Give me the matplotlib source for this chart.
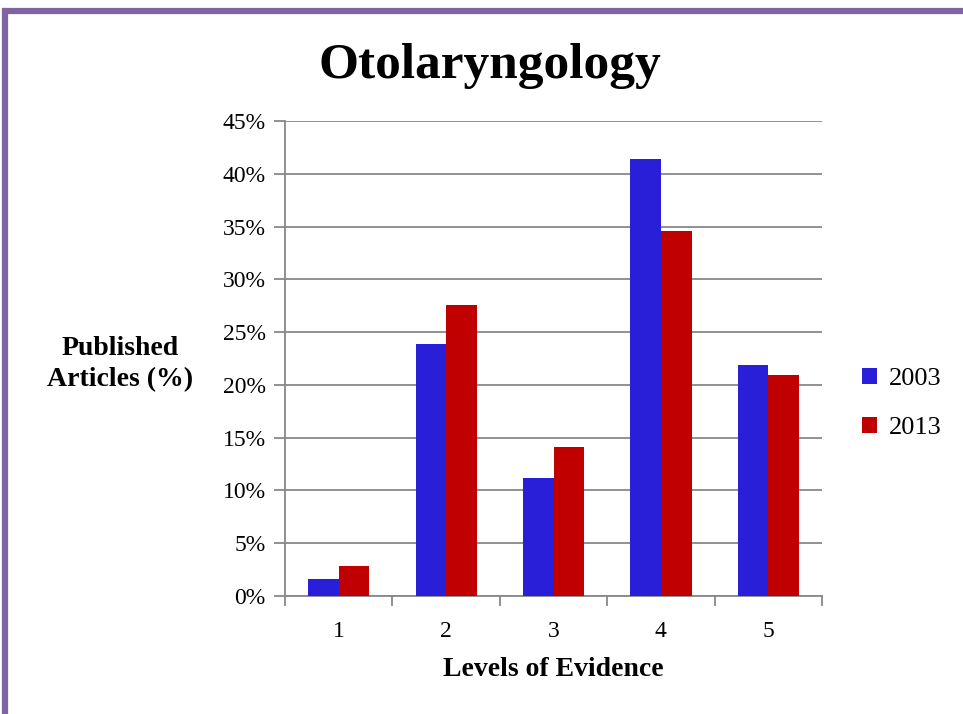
import numpy as np
import matplotlib.pyplot as plt
from matplotlib.patches import Rectangle

levels = ["1", "2", "3", "4", "5"]
pct_2003 = [1.6, 23.9, 11.2, 41.4, 21.9]
pct_2013 = [2.8, 27.6, 14.1, 34.6, 20.9]
yticks = [0, 5, 10, 15, 20, 25, 30, 35, 40, 45]

plt.rcParams['font.family'] = ['Liberation Serif', 'DejaVu Serif']

fig = plt.figure(figsize=(9.63, 7.14), dpi=100)
ax = fig.add_axes([0.296, 0.1653, 0.5576, 0.6653])

# purple frame on the slide
fig.patches.append(Rectangle((0.0055, -0.05), 2, 1.035, transform=fig.transFigure,
                             fill=False, edgecolor="#8064A2", linewidth=4.5))

x = np.arange(len(levels))
w = 0.285
ax.bar(x - w / 2, pct_2003, w, color="#2A1FD9", label="2003", zorder=3)
ax.bar(x + w / 2, pct_2013, w, color="#C00000", label="2013", zorder=3)

ax.set_xlim(-0.5, len(levels) - 0.5)
ax.set_ylim(0, 45)
ax.set_yticks(yticks)
ax.set_yticklabels([f"{v}%" for v in yticks], fontsize=17)
ax.set_xticks(x)
ax.set_xticklabels(levels, fontsize=17)
ax.set_xticks(np.arange(-0.5, len(levels)), minor=True)
ax.tick_params(axis="x", which="major", length=0, pad=18)
ax.tick_params(axis="x", which="minor", length=7, width=1.3, color="#888888")
ax.tick_params(axis="y", length=8, width=1.3, color="#888888", pad=6)

ax.grid(axis="y", color="#888888", linewidth=1.3, zorder=0)
for s in ["top", "right"]:
    ax.spines[s].set_visible(False)
for s in ["left", "bottom"]:
    ax.spines[s].set_color("#888888")
    ax.spines[s].set_linewidth(1.3)

ax.set_xlabel("Levels of Evidence", fontsize=20, fontweight="bold", labelpad=11)
fig.text(0.125, 0.49, "Published\nArticles (%)", fontsize=20, fontweight="bold",
         ha="center", va="center", linespacing=1.35)
fig.text(0.509, 0.907, "Otolaryngology", fontsize=37, fontweight="bold",
         ha="center", va="center")

leg = fig.legend(loc="center left", bbox_to_anchor=(0.87, 0.435), frameon=False,
                 fontsize=19, handlelength=0.6, handleheight=0.6, handletextpad=0.45,
                 labelspacing=1.0)

fig.savefig("out.png", dpi=100)
